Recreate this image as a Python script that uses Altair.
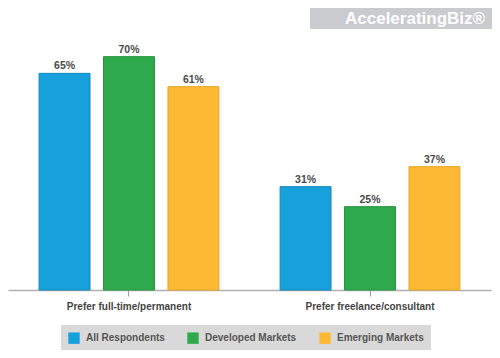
import altair as alt
import pandas as pd

categories = ["Prefer full-time/permanent", "Prefer freelance/consultant"]
series = ["All Respondents", "Developed Markets", "Emerging Markets"]
full_time = [65, 70, 61]
freelance = [31, 25, 37]
colors = ["#16a1dc", "#2eaa4c", "#fdb934"]
stroke_colors = ["#1288bb", "#23903e", "#e8a620"]

rows = []
for cat, vals in zip(categories, [full_time, freelance]):
    for s, v in zip(series, vals):
        rows.append({"category": cat, "series": s, "value": v, "label": f"{v}%"})
df = pd.DataFrame(rows)

FONT = "Liberation Sans"

x_enc = alt.X("category:N", sort=categories, title=None,
              scale=alt.Scale(paddingInner=0.254, paddingOuter=0.129),
              axis=alt.Axis(labelAngle=0, domainColor="#b0b0b0", tickColor="#9a9a9a",
                            tickSize=6, labelFont=FONT, labelFontSize=10,
                            labelFontWeight="bold", labelColor="#444444",
                            labelPadding=5, domainWidth=1.5))
xoff = alt.XOffset("series:N", sort=series, scale=alt.Scale(paddingInner=0.21, paddingOuter=0))
y_enc = alt.Y("value:Q", scale=alt.Scale(domain=[0, 81]), axis=None)

base = alt.Chart(df)

bars = base.mark_bar(strokeWidth=1).encode(
    x=x_enc, xOffset=xoff, y=y_enc,
    color=alt.Color("series:N", sort=series,
                    scale=alt.Scale(domain=series, range=colors),
                    legend=alt.Legend(orient="none", legendX=53, legendY=305,
                                      direction="horizontal", title=None,
                                      fillColor="#d9d9d9", padding=7,
                                      symbolType="square", symbolSize=130,
                                      symbolStrokeWidth=0, columnPadding=22,
                                      labelFont=FONT, labelFontSize=10,
                                      labelFontWeight="bold", labelColor="#555555",
                                      labelOffset=6)),
    stroke=alt.Stroke("series:N", sort=series,
                      scale=alt.Scale(domain=series, range=stroke_colors), legend=None),
)

labels = base.mark_text(dy=-7, font=FONT, fontSize=10.5, fontWeight="bold",
                        color="#4a4a4a").encode(
    x=x_enc, xOffset=xoff, y=y_enc, text="label:N")

logo_df = pd.DataFrame({"t": ["AcceleratingBiz®"]})
logo_box = alt.Chart(logo_df).mark_rect(color="#c9cbcf").encode(
    x=alt.value(302), x2=alt.value(489), y=alt.value(-12), y2=alt.value(9))
logo_text = alt.Chart(logo_df).mark_text(font=FONT, fontSize=17, fontWeight="bold",
                                         color="white", align="left", baseline="middle").encode(
    x=alt.value(337), y=alt.value(-1), text="t:N")

chart = alt.layer(bars, labels, logo_box, logo_text).properties(
    width=483, height=270,
    autosize=alt.AutoSizeParams(type="none"),
    padding={"left": 0, "right": 1, "top": 12, "bottom": 60},
).configure(background="white", view=alt.ViewConfig(stroke=None))

chart.save("out.html", embed_options={"renderer": "svg", "actions": False})
